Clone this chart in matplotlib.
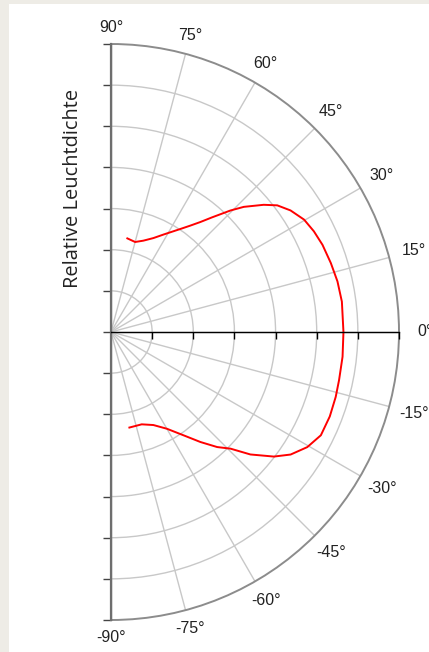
import numpy as np
import matplotlib
matplotlib.use("Agg")
import matplotlib.pyplot as plt
from matplotlib.patches import Rectangle

# red curve (angle in degrees, relative value; rings every 0.2)
theta_upper = [80.1, 75.0, 70.5, 65.7, 61.7, 56.1, 53.3, 50.9, 48.6, 45.5, 43.3,
               39.8, 37.3, 34.1, 30.2, 26.4, 22.4, 17.4, 12.6, 7.5, 0.0]
r_upper = [0.462, 0.453, 0.471, 0.501, 0.538, 0.603, 0.645, 0.689, 0.743, 0.828, 0.887,
           0.966, 1.016, 1.054, 1.086, 1.101, 1.112, 1.120, 1.128, 1.132, 1.130]
theta_lower = [-6.1, -11.9, -16.1, -21.1, -26.2, -30.4, -34.3, -37.4, -41.3, -44.3,
               -47.3, -50.9, -54.9, -60.0, -65.5, -71.6, -79.1]
r_lower = [1.132, 1.133, 1.137, 1.140, 1.137, 1.106, 1.057, 0.997, 0.902, 0.812,
           0.761, 0.689, 0.614, 0.543, 0.497, 0.473, 0.473]

ring_values = [0.2, 0.4, 0.6, 0.8, 1.0, 1.2]
r_max = 1.4
angle_ticks = list(range(90, -91, -15))
angle_labels = [f"{a}°" for a in angle_ticks]

W, H = 429, 652
fig = plt.figure(figsize=(W / 100, H / 100), dpi=100)
fig.patch.set_facecolor("#eeece6")
fig.patches.append(Rectangle((9 / W, 0), 1, (H - 4) / H, transform=fig.transFigure,
                             facecolor="white", edgecolor="none", zorder=-10))

# center at (111, 332) px, outer radius 288 px
# polar axes keep a square box, the half wedge sits in its middle half
R = 288
cx, cy = 111, 332
polar_rect = [(cx - R / 2) / W, (H - cy - R) / H, 2 * R / W, 2 * R / H]
rect = [cx / W, (H - cy - R) / H, R / W, 2 * R / H]

ax = fig.add_axes(polar_rect, projection="polar")
ax.set_thetamin(-90)
ax.set_thetamax(90)
ax.set_rlim(0, r_max)
ax.set_rgrids(ring_values, labels=[""] * len(ring_values))
ax.set_thetagrids(angle_ticks, labels=[""] * len(angle_ticks))
ax.grid(True, color="#c8c8c8", lw=1.0)
ax.spines["polar"].set_color("#8c8c8c")
ax.spines["polar"].set_linewidth(1.4)
ax.spines["start"].set_visible(False)
ax.spines["end"].set_visible(False)
ax.spines["inner"].set_visible(False)
ax.tick_params(axis="x", length=4, color="#555555", direction="out", pad=0)
ax.tick_params(axis="y", length=0)
ax.patch.set_alpha(0)

theta = np.deg2rad(theta_upper + theta_lower)
r = np.array(r_upper + r_lower)
ax.plot(theta, r, color="red", lw=1.4, zorder=5, solid_joinstyle="round")

# angle labels round the outside
px = r_max / R
for a, lab in zip(angle_ticks, angle_labels):
    rl = (305 + 9 * np.cos(np.deg2rad(a))) * px
    ax.text(np.deg2rad(a), rl, lab, ha="center", va="center", fontsize=11.5,
            family="Liberation Sans", color="#222222", clip_on=False)

# straight axes: vertical edge and the 0 degree line with their ticks
ax2 = fig.add_axes(rect)
ax2.set_xlim(0, r_max)
ax2.set_ylim(-r_max, r_max)
ax2.patch.set_visible(False)
ax2.spines["top"].set_visible(False)
ax2.spines["right"].set_visible(False)
ax2.spines["left"].set_color("#6e6e6e")
ax2.spines["left"].set_linewidth(1.6)
ax2.spines["bottom"].set_position(("data", 0))
ax2.spines["bottom"].set_color("black")
ax2.spines["bottom"].set_linewidth(1.0)
ax2.set_yticks(np.arange(-r_max, r_max + 0.01, 0.2))
ax2.set_xticks(np.arange(0.2, r_max + 0.01, 0.2))
ax2.set_yticklabels([])
ax2.set_xticklabels([])
ax2.tick_params(axis="y", length=6, width=1.0, color="#444444", direction="out")
ax2.tick_params(axis="x", length=5, width=1.0, color="black", direction="out")

fig.text(73 / W, 1 - 188 / H, "Relative Leuchtdichte", rotation=90, ha="center",
         va="center", fontsize=14.4, family="Open Sans", color="#222222")

fig.savefig("out.png", dpi=100, facecolor=fig.get_facecolor())
